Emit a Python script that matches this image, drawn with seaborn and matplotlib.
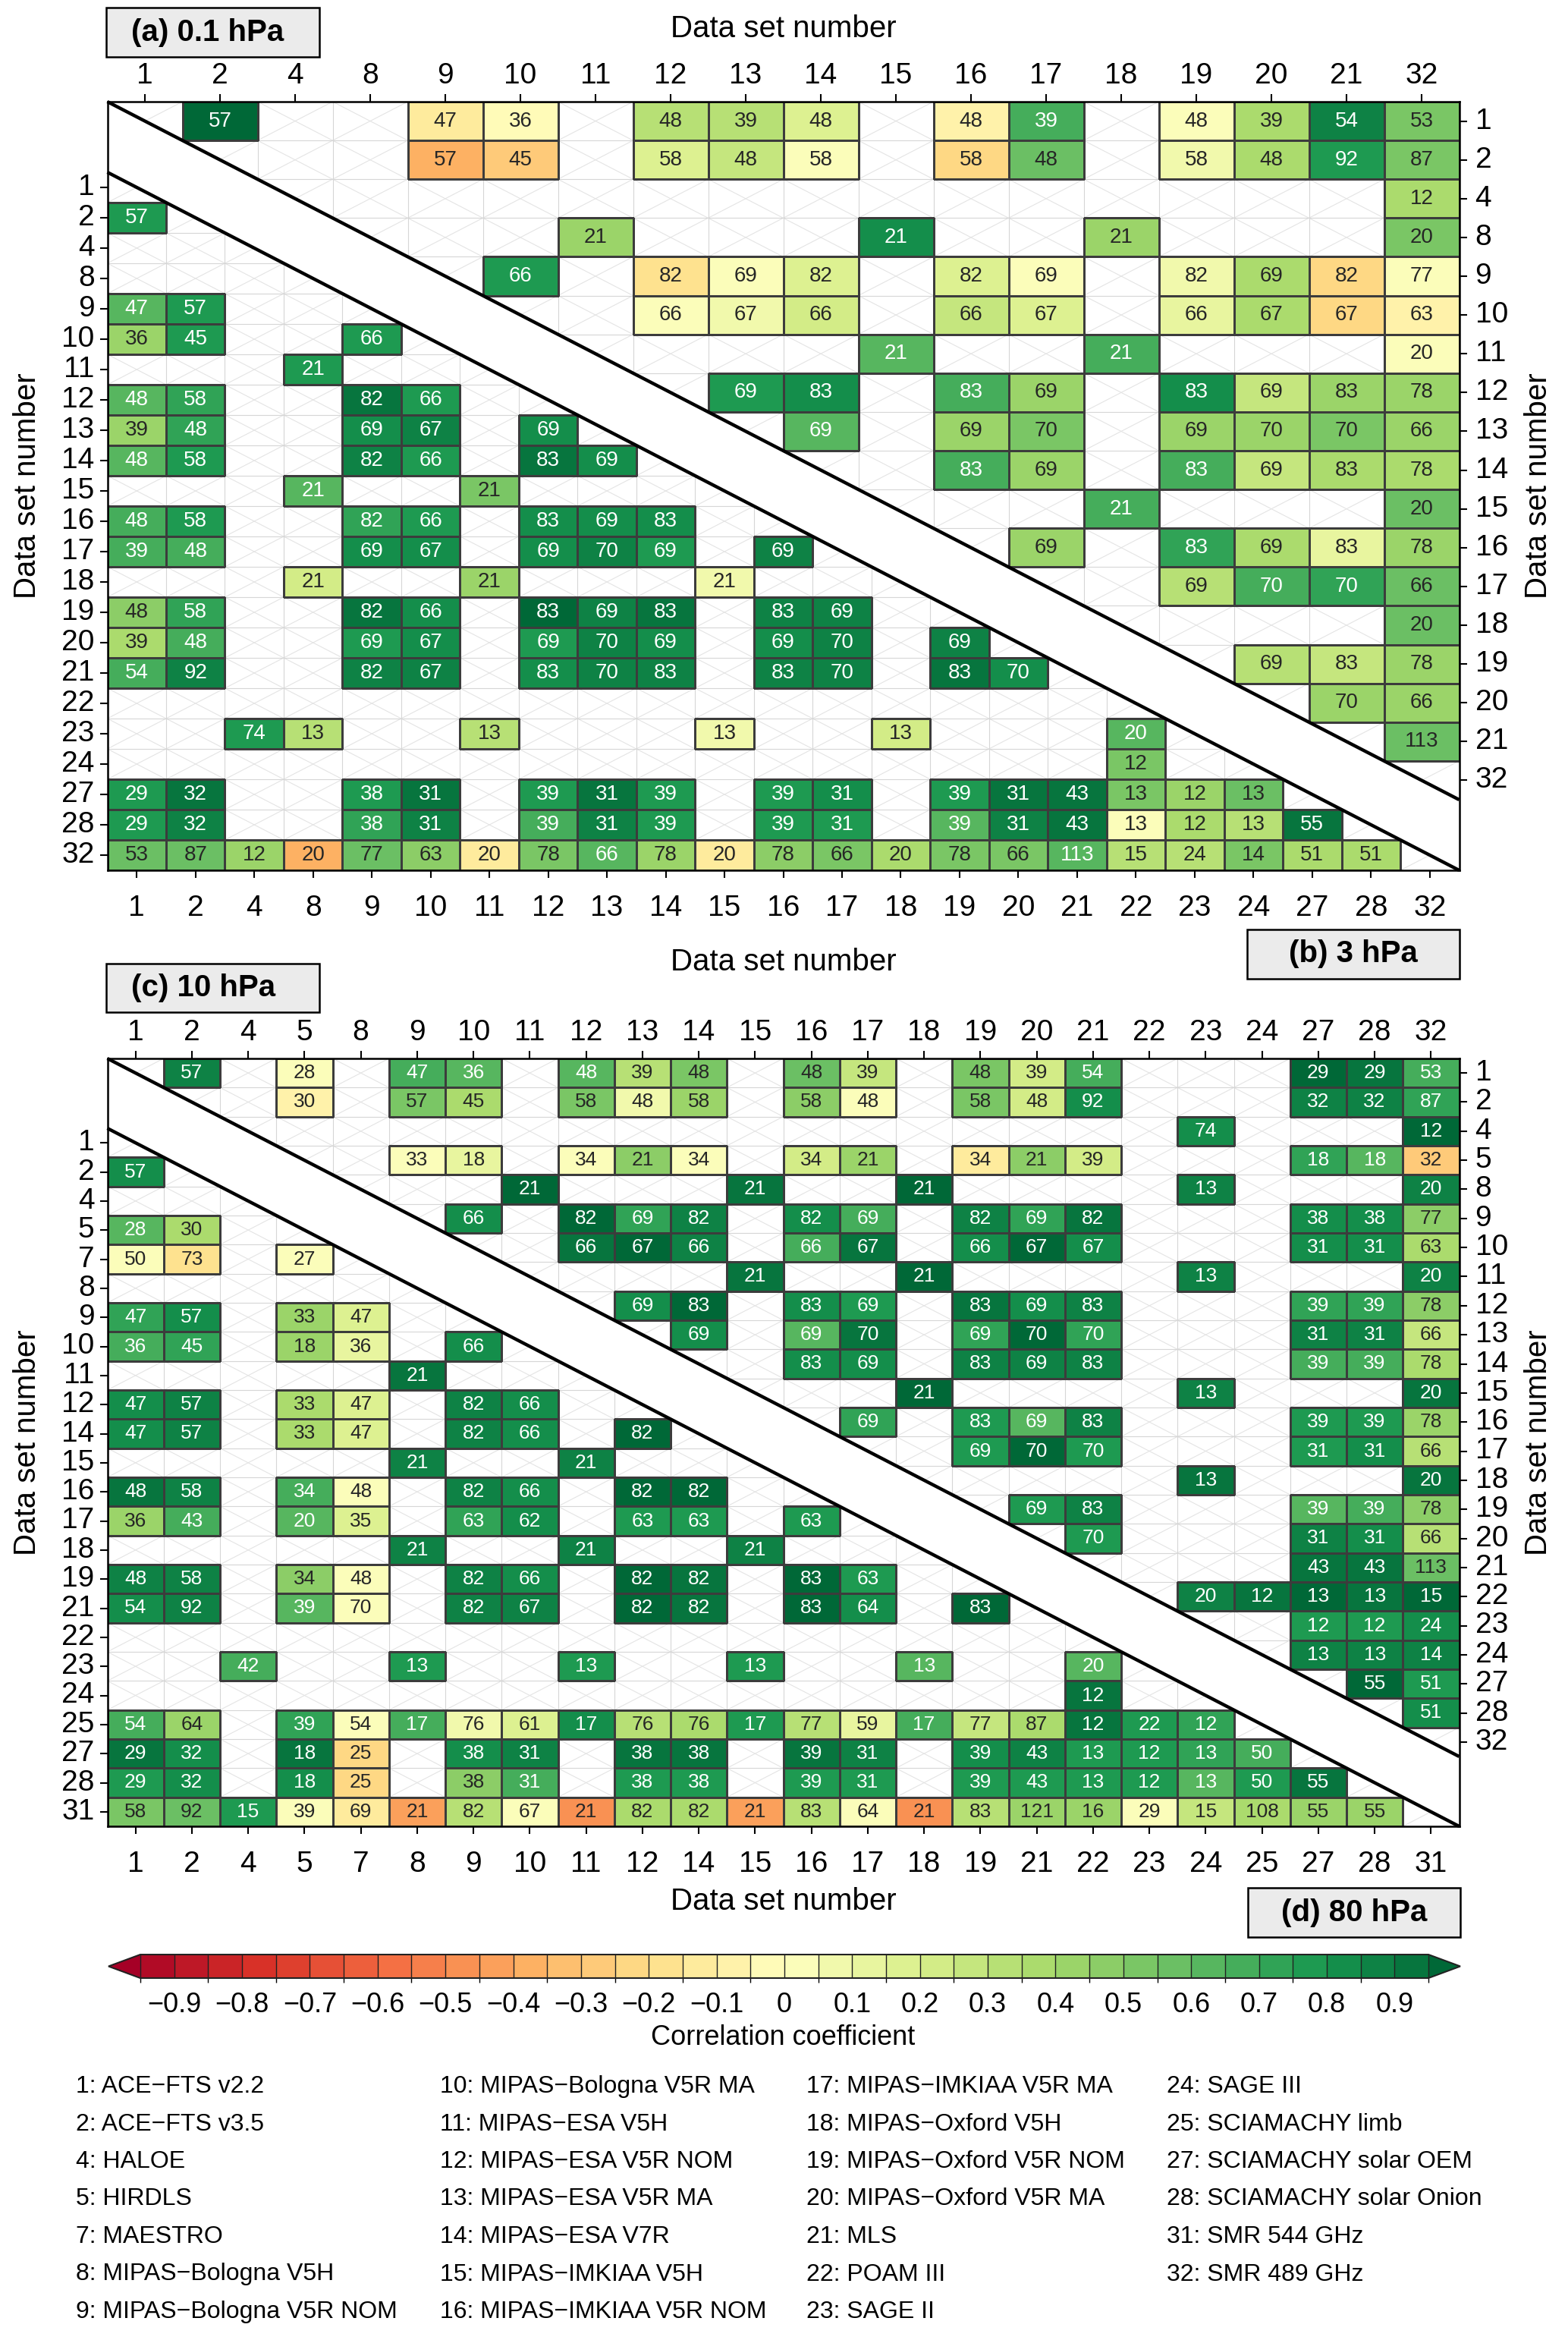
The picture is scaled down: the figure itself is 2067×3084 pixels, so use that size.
import numpy as np
import pandas as pd
import matplotlib
matplotlib.use("Agg")
import matplotlib.pyplot as plt
import seaborn as sns
from matplotlib.colors import BoundaryNorm, to_rgba
from matplotlib.collections import LineCollection
from matplotlib.patches import Polygon, Rectangle

# ---------------- data ----------------
LAB_A = [1, 2, 4, 8, 9, 10, 11, 12, 13, 14, 15, 16, 17, 18, 19, 20, 21, 22, 23, 24, 27, 28, 32]
LAB_B = [1, 2, 4, 8, 9, 10, 11, 12, 13, 14, 15, 16, 17, 18, 19, 20, 21, 32]
LAB_C = [1, 2, 4, 5, 7, 8, 9, 10, 11, 12, 14, 15, 16, 17, 18, 19, 21, 22, 23, 24, 25, 27, 28, 31]
LAB_D = [1, 2, 4, 5, 8, 9, 10, 11, 12, 13, 14, 15, 16, 17, 18, 19, 20, 21, 22, 23, 24, 27, 28, 32]

# (row, column, number of coincidences, correlation coefficient)
CELLS_A = [  # (a) 0.1 hPa, lower-left triangle
    (2, 1, 57, 0.77),
    (9, 1, 47, 0.62), (9, 2, 57, 0.77),
    (10, 1, 36, 0.42), (10, 2, 45, 0.77), (10, 9, 66, 0.77),
    (11, 8, 21, 0.77),
    (12, 1, 48, 0.62), (12, 2, 58, 0.72), (12, 9, 82, 0.93), (12, 10, 66, 0.77),
    (13, 1, 39, 0.42), (13, 2, 48, 0.72), (13, 9, 69, 0.82), (13, 10, 67, 0.88), (13, 12, 69, 0.82),
    (14, 1, 48, 0.62), (14, 2, 58, 0.77), (14, 9, 82, 0.88), (14, 10, 66, 0.77), (14, 12, 83, 0.92), (14, 13, 69, 0.82),
    (15, 8, 21, 0.62), (15, 11, 21, 0.52),
    (16, 1, 48, 0.67), (16, 2, 58, 0.77), (16, 9, 82, 0.72), (16, 10, 66, 0.77), (16, 12, 83, 0.82), (16, 13, 69, 0.82), (16, 14, 83, 0.82),
    (17, 1, 39, 0.67), (17, 2, 48, 0.67), (17, 9, 69, 0.82), (17, 10, 67, 0.82), (17, 12, 69, 0.82), (17, 13, 70, 0.87), (17, 14, 69, 0.77), (17, 16, 69, 0.87),
    (18, 8, 21, 0.22), (18, 11, 21, 0.42), (18, 15, 21, 0.07),
    (19, 1, 48, 0.47), (19, 2, 58, 0.72), (19, 9, 82, 0.92), (19, 10, 66, 0.82), (19, 12, 83, 0.96), (19, 13, 69, 0.87), (19, 14, 83, 0.92), (19, 16, 83, 0.87), (19, 17, 69, 0.87),
    (20, 1, 39, 0.37), (20, 2, 48, 0.67), (20, 9, 69, 0.77), (20, 10, 67, 0.82), (20, 12, 69, 0.77), (20, 13, 70, 0.87), (20, 14, 69, 0.82), (20, 16, 69, 0.82), (20, 17, 70, 0.87), (20, 19, 69, 0.87),
    (21, 1, 54, 0.67), (21, 2, 92, 0.88), (21, 9, 82, 0.88), (21, 10, 67, 0.88), (21, 12, 83, 0.82), (21, 13, 70, 0.88), (21, 14, 83, 0.88), (21, 16, 83, 0.88), (21, 17, 70, 0.88), (21, 19, 83, 0.92), (21, 20, 70, 0.82),
    (23, 4, 74, 0.77), (23, 8, 13, 0.32), (23, 11, 13, 0.32), (23, 15, 13, 0.07), (23, 18, 13, 0.22), (23, 22, 20, 0.62),
    (24, 22, 12, 0.52),
    (27, 1, 29, 0.77), (27, 2, 32, 0.92), (27, 9, 38, 0.77), (27, 10, 31, 0.92), (27, 12, 39, 0.77), (27, 13, 31, 0.93), (27, 14, 39, 0.77), (27, 16, 39, 0.77), (27, 17, 31, 0.82), (27, 19, 39, 0.77), (27, 20, 31, 0.92), (27, 21, 43, 0.92), (27, 22, 13, 0.52), (27, 23, 12, 0.42), (27, 24, 13, 0.57),
    (28, 1, 29, 0.77), (28, 2, 32, 0.87), (28, 9, 38, 0.72), (28, 10, 31, 0.87), (28, 12, 39, 0.67), (28, 13, 31, 0.87), (28, 14, 39, 0.77), (28, 16, 39, 0.77), (28, 17, 31, 0.77), (28, 19, 39, 0.62), (28, 20, 31, 0.87), (28, 21, 43, 0.92), (28, 22, 13, 0.03), (28, 23, 12, 0.37), (28, 24, 13, 0.32), (28, 27, 55, 0.92),
    (32, 1, 53, 0.57), (32, 2, 87, 0.57), (32, 4, 12, 0.42), (32, 8, 20, -0.38), (32, 9, 77, 0.57), (32, 10, 63, 0.47), (32, 11, 20, -0.12), (32, 12, 78, 0.52), (32, 13, 66, 0.62), (32, 14, 78, 0.42), (32, 15, 20, -0.12), (32, 16, 78, 0.47), (32, 17, 66, 0.52), (32, 18, 20, 0.37), (32, 19, 78, 0.52), (32, 20, 66, 0.52), (32, 21, 113, 0.62), (32, 22, 15, 0.32), (32, 23, 24, 0.32), (32, 24, 14, 0.52), (32, 27, 51, 0.37), (32, 28, 51, 0.37),
]

CELLS_B = [  # (b) 3 hPa, upper-right triangle
    (1, 2, 57, 0.96), (1, 9, 47, -0.13), (1, 10, 36, -0.03), (1, 12, 48, 0.32), (1, 13, 39, 0.32), (1, 14, 48, 0.17), (1, 16, 48, -0.07), (1, 17, 39, 0.67), (1, 19, 48, 0.03), (1, 20, 39, 0.38), (1, 21, 54, 0.88), (1, 32, 53, 0.52),
    (2, 9, 57, -0.37), (2, 10, 45, -0.27), (2, 12, 58, 0.17), (2, 13, 48, 0.28), (2, 14, 58, 0.03), (2, 16, 58, -0.22), (2, 17, 48, 0.57), (2, 19, 58, 0.07), (2, 20, 48, 0.38), (2, 21, 92, 0.77), (2, 32, 87, 0.52),
    (4, 32, 12, 0.38),
    (8, 11, 21, 0.42), (8, 15, 21, 0.82), (8, 18, 21, 0.42), (8, 32, 20, 0.52),
    (9, 10, 66, 0.77), (9, 12, 82, -0.17), (9, 13, 69, 0.03), (9, 14, 82, 0.17), (9, 16, 82, 0.17), (9, 17, 69, 0.03), (9, 19, 82, 0.08), (9, 20, 69, 0.38), (9, 21, 82, -0.22), (9, 32, 77, 0.03),
    (10, 12, 66, 0.03), (10, 13, 67, 0.08), (10, 14, 66, 0.22), (10, 16, 66, 0.28), (10, 17, 67, 0.17), (10, 19, 66, 0.13), (10, 20, 67, 0.38), (10, 21, 67, -0.22), (10, 32, 63, -0.07),
    (11, 15, 21, 0.62), (11, 18, 21, 0.67), (11, 32, 20, 0.03),
    (12, 13, 69, 0.77), (12, 14, 83, 0.82), (12, 16, 83, 0.67), (12, 17, 69, 0.42), (12, 19, 83, 0.82), (12, 20, 69, 0.28), (12, 21, 83, 0.42), (12, 32, 78, 0.42),
    (13, 14, 69, 0.62), (13, 16, 69, 0.42), (13, 17, 70, 0.52), (13, 19, 69, 0.42), (13, 20, 70, 0.42), (13, 21, 70, 0.52), (13, 32, 66, 0.42),
    (14, 16, 83, 0.67), (14, 17, 69, 0.42), (14, 19, 83, 0.67), (14, 20, 69, 0.28), (14, 21, 83, 0.38), (14, 32, 78, 0.38),
    (15, 18, 21, 0.67), (15, 32, 20, 0.57),
    (16, 17, 69, 0.42), (16, 19, 83, 0.72), (16, 20, 69, 0.38), (16, 21, 83, 0.13), (16, 32, 78, 0.42),
    (17, 19, 69, 0.32), (17, 20, 70, 0.67), (17, 21, 70, 0.72), (17, 32, 66, 0.57),
    (18, 32, 20, 0.57),
    (19, 20, 69, 0.33), (19, 21, 83, 0.28), (19, 32, 78, 0.42),
    (20, 21, 70, 0.42), (20, 32, 66, 0.42),
    (21, 32, 113, 0.57),
]

CELLS_C = [  # (c) 10 hPa, lower-left triangle
    (2, 1, 57, 0.82),
    (5, 1, 28, 0.62), (5, 2, 30, 0.38),
    (7, 1, 50, 0.03), (7, 2, 73, -0.17), (7, 5, 27, 0.03),
    (9, 1, 47, 0.72), (9, 2, 57, 0.82), (9, 5, 33, 0.42), (9, 7, 47, 0.17),
    (10, 1, 36, 0.67), (10, 2, 45, 0.72), (10, 5, 18, 0.42), (10, 7, 36, 0.12), (10, 9, 66, 0.82),
    (11, 8, 21, 0.92),
    (12, 1, 47, 0.82), (12, 2, 57, 0.87), (12, 5, 33, 0.38), (12, 7, 47, 0.17), (12, 9, 82, 0.87), (12, 10, 66, 0.82),
    (14, 1, 47, 0.82), (14, 2, 57, 0.87), (14, 5, 33, 0.38), (14, 7, 47, 0.17), (14, 9, 82, 0.87), (14, 10, 66, 0.82), (14, 12, 82, 0.96),
    (15, 8, 21, 0.87), (15, 11, 21, 0.87),
    (16, 1, 48, 0.92), (16, 2, 58, 0.87), (16, 5, 34, 0.67), (16, 7, 48, 0.03), (16, 9, 82, 0.87), (16, 10, 66, 0.82), (16, 12, 82, 0.96), (16, 14, 82, 0.96),
    (17, 1, 36, 0.42), (17, 2, 43, 0.67), (17, 5, 20, 0.62), (17, 7, 35, 0.17), (17, 9, 63, 0.72), (17, 10, 62, 0.82), (17, 12, 63, 0.77), (17, 14, 63, 0.77), (17, 16, 63, 0.77),
    (18, 8, 21, 0.87), (18, 11, 21, 0.87), (18, 15, 21, 0.87),
    (19, 1, 48, 0.87), (19, 2, 58, 0.87), (19, 5, 34, 0.47), (19, 7, 48, 0.03), (19, 9, 82, 0.87), (19, 10, 66, 0.82), (19, 12, 82, 0.96), (19, 14, 82, 0.92), (19, 16, 83, 0.96), (19, 17, 63, 0.77),
    (21, 1, 54, 0.82), (21, 2, 92, 0.87), (21, 5, 39, 0.62), (21, 7, 70, 0.03), (21, 9, 82, 0.87), (21, 10, 67, 0.87), (21, 12, 82, 0.96), (21, 14, 82, 0.92), (21, 16, 83, 0.96), (21, 17, 64, 0.82), (21, 19, 83, 0.96),
    (23, 4, 42, 0.67), (23, 8, 13, 0.77), (23, 11, 13, 0.77), (23, 15, 13, 0.77), (23, 18, 13, 0.62), (23, 22, 20, 0.62),
    (24, 22, 12, 0.92),
    (25, 1, 54, 0.67), (25, 2, 64, 0.42), (25, 5, 39, 0.72), (25, 7, 54, 0.03), (25, 8, 17, 0.67), (25, 9, 76, 0.08), (25, 10, 61, 0.17), (25, 11, 17, 0.82), (25, 12, 76, 0.33), (25, 14, 76, 0.38), (25, 15, 17, 0.77), (25, 16, 77, 0.33), (25, 17, 59, 0.13), (25, 18, 17, 0.67), (25, 19, 77, 0.28), (25, 21, 87, 0.38), (25, 22, 12, 0.92), (25, 23, 22, 0.77), (25, 24, 12, 0.72),
    (27, 1, 29, 0.92), (27, 2, 32, 0.82), (27, 5, 18, 0.92), (27, 7, 25, -0.22), (27, 9, 38, 0.82), (27, 10, 31, 0.88), (27, 12, 38, 0.92), (27, 14, 38, 0.92), (27, 16, 39, 0.93), (27, 17, 31, 0.88), (27, 19, 39, 0.83), (27, 21, 43, 0.88), (27, 22, 13, 0.78), (27, 23, 12, 0.77), (27, 24, 13, 0.72), (27, 25, 50, 0.67),
    (28, 1, 29, 0.77), (28, 2, 32, 0.82), (28, 5, 18, 0.82), (28, 7, 25, -0.22), (28, 9, 38, 0.47), (28, 10, 31, 0.67), (28, 12, 38, 0.77), (28, 14, 38, 0.77), (28, 16, 39, 0.77), (28, 17, 31, 0.77), (28, 19, 39, 0.77), (28, 21, 43, 0.77), (28, 22, 13, 0.77), (28, 23, 12, 0.77), (28, 24, 13, 0.62), (28, 25, 50, 0.77), (28, 27, 55, 0.92),
    (31, 1, 58, 0.52), (31, 2, 92, 0.57), (31, 4, 15, 0.77), (31, 5, 39, 0.03), (31, 7, 69, -0.12), (31, 8, 21, -0.42), (31, 9, 82, 0.33), (31, 10, 67, 0.03), (31, 11, 21, -0.47), (31, 12, 82, 0.38), (31, 14, 82, 0.38), (31, 15, 21, -0.42), (31, 16, 83, 0.33), (31, 17, 64, 0.03), (31, 18, 21, -0.47), (31, 19, 83, 0.33), (31, 21, 121, 0.42), (31, 22, 16, 0.42), (31, 23, 29, 0.03), (31, 24, 15, 0.28), (31, 25, 108, 0.38), (31, 27, 55, 0.42), (31, 28, 55, 0.42),
]

CELLS_D = [  # (d) 80 hPa, upper-right triangle
    (1, 2, 57, 0.87), (1, 5, 28, 0.03), (1, 9, 47, 0.67), (1, 10, 36, 0.62), (1, 12, 48, 0.62), (1, 13, 39, 0.33), (1, 14, 48, 0.52), (1, 16, 48, 0.57), (1, 17, 39, 0.28), (1, 19, 48, 0.52), (1, 20, 39, 0.22), (1, 21, 54, 0.67), (1, 27, 29, 0.96), (1, 28, 29, 0.92), (1, 32, 53, 0.67),
    (2, 5, 30, -0.07), (2, 9, 57, 0.52), (2, 10, 45, 0.38), (2, 12, 58, 0.52), (2, 13, 48, 0.08), (2, 14, 58, 0.42), (2, 16, 58, 0.47), (2, 17, 48, 0.03), (2, 19, 58, 0.52), (2, 20, 48, 0.22), (2, 21, 92, 0.82), (2, 27, 32, 0.87), (2, 28, 32, 0.87), (2, 32, 87, 0.72),
    (4, 23, 74, 0.82), (4, 32, 12, 0.96),
    (5, 9, 33, 0.03), (5, 10, 18, 0.13), (5, 12, 34, 0.03), (5, 13, 21, 0.47), (5, 14, 34, 0.03), (5, 16, 34, 0.22), (5, 17, 21, 0.42), (5, 19, 34, -0.12), (5, 20, 21, 0.47), (5, 21, 39, 0.22), (5, 27, 18, 0.72), (5, 28, 18, 0.62), (5, 32, 32, -0.27),
    (8, 11, 21, 0.96), (8, 15, 21, 0.92), (8, 18, 21, 0.96), (8, 23, 13, 0.87), (8, 32, 20, 0.87),
    (9, 10, 66, 0.82), (9, 12, 82, 0.96), (9, 13, 69, 0.72), (9, 14, 82, 0.88), (9, 16, 82, 0.82), (9, 17, 69, 0.67), (9, 19, 82, 0.87), (9, 20, 69, 0.72), (9, 21, 82, 0.92), (9, 27, 38, 0.82), (9, 28, 38, 0.82), (9, 32, 77, 0.47),
    (10, 12, 66, 0.92), (10, 13, 67, 0.96), (10, 14, 66, 0.87), (10, 16, 66, 0.67), (10, 17, 67, 0.92), (10, 19, 66, 0.82), (10, 20, 67, 0.96), (10, 21, 67, 0.82), (10, 27, 31, 0.82), (10, 28, 31, 0.82), (10, 32, 63, 0.37),
    (11, 15, 21, 0.92), (11, 18, 21, 0.96), (11, 23, 13, 0.87), (11, 32, 20, 0.87),
    (12, 13, 69, 0.82), (12, 14, 83, 0.96), (12, 16, 83, 0.82), (12, 17, 69, 0.77), (12, 19, 83, 0.92), (12, 20, 69, 0.82), (12, 21, 83, 0.87), (12, 27, 39, 0.72), (12, 28, 39, 0.72), (12, 32, 78, 0.47),
    (13, 14, 69, 0.82), (13, 16, 69, 0.62), (13, 17, 70, 0.92), (13, 19, 69, 0.72), (13, 20, 70, 0.96), (13, 21, 70, 0.72), (13, 27, 31, 0.87), (13, 28, 31, 0.87), (13, 32, 66, 0.27),
    (14, 16, 83, 0.82), (14, 17, 69, 0.82), (14, 19, 83, 0.87), (14, 20, 69, 0.87), (14, 21, 83, 0.87), (14, 27, 39, 0.67), (14, 28, 39, 0.67), (14, 32, 78, 0.37),
    (15, 18, 21, 0.96), (15, 23, 13, 0.87), (15, 32, 20, 0.92),
    (16, 17, 69, 0.72), (16, 19, 83, 0.77), (16, 20, 69, 0.62), (16, 21, 83, 0.87), (16, 27, 39, 0.77), (16, 28, 39, 0.77), (16, 32, 78, 0.42),
    (17, 19, 69, 0.77), (17, 20, 70, 0.96), (17, 21, 70, 0.77), (17, 27, 31, 0.77), (17, 28, 31, 0.82), (17, 32, 66, 0.33),
    (18, 23, 13, 0.92), (18, 32, 20, 0.92),
    (19, 20, 69, 0.77), (19, 21, 83, 0.87), (19, 27, 39, 0.62), (19, 28, 39, 0.67), (19, 32, 78, 0.47),
    (20, 21, 70, 0.77), (20, 27, 31, 0.87), (20, 28, 31, 0.82), (20, 32, 66, 0.33),
    (21, 27, 43, 0.92), (21, 28, 43, 0.92), (21, 32, 113, 0.57),
    (22, 23, 20, 0.87), (22, 24, 12, 0.92), (22, 27, 13, 0.96), (22, 28, 13, 0.92), (22, 32, 15, 0.96),
    (23, 27, 12, 0.77), (23, 28, 12, 0.77), (23, 32, 24, 0.82),
    (24, 27, 13, 0.87), (24, 28, 13, 0.87), (24, 32, 14, 0.87),
    (27, 28, 55, 0.96), (27, 32, 51, 0.77),
    (28, 32, 51, 0.82),
]

PANEL_TITLES = ["(a) 0.1 hPa", "(b) 3 hPa", "(c) 10 hPa", "(d) 80 hPa"]
AXIS_TITLE = "Data set number"
CB_TICKS = [-0.9, -0.8, -0.7, -0.6, -0.5, -0.4, -0.3, -0.2, -0.1, 0.0, 0.1, 0.2, 0.3, 0.4, 0.5, 0.6, 0.7, 0.8, 0.9]
CB_TICKLABELS = ["\u22120.9", "\u22120.8", "\u22120.7", "\u22120.6", "\u22120.5", "\u22120.4", "\u22120.3",
                 "\u22120.2", "\u22120.1", "0", "0.1", "0.2", "0.3", "0.4", "0.5", "0.6", "0.7", "0.8", "0.9"]
CB_LABEL = "Correlation coefficient"
LEGEND_COLS = [
    ["1: ACE\u2212FTS v2.2", "2: ACE\u2212FTS v3.5", "4: HALOE", "5: HIRDLS", "7: MAESTRO",
     "8: MIPAS\u2212Bologna V5H", "9: MIPAS\u2212Bologna V5R NOM"],
    ["10: MIPAS\u2212Bologna V5R MA", "11: MIPAS\u2212ESA V5H", "12: MIPAS\u2212ESA V5R NOM",
     "13: MIPAS\u2212ESA V5R MA", "14: MIPAS\u2212ESA V7R", "15: MIPAS\u2212IMKIAA V5H",
     "16: MIPAS\u2212IMKIAA V5R NOM"],
    ["17: MIPAS\u2212IMKIAA V5R MA", "18: MIPAS\u2212Oxford V5H", "19: MIPAS\u2212Oxford V5R NOM",
     "20: MIPAS\u2212Oxford V5R MA", "21: MLS", "22: POAM III", "23: SAGE II"],
    ["24: SAGE III", "25: SCIAMACHY limb", "27: SCIAMACHY solar OEM", "28: SCIAMACHY solar Onion",
     "31: SMR 544 GHz", "32: SMR 489 GHz"],
]

# ---------------- style ----------------
W, H = 2067, 3084
sns.set_theme(style="white")
plt.rcParams["font.family"] = ["Liberation Sans", "DejaVu Sans"]
for k in ["text.color", "axes.labelcolor", "xtick.color", "ytick.color"]:
    plt.rcParams[k] = "black"

fig = plt.figure(figsize=(W / 100, H / 100), dpi=100)
fig.patch.set_facecolor("white")

levels = np.round(np.arange(-0.95, 0.951, 0.05), 3)
cmap = plt.get_cmap("RdYlGn")
norm = BoundaryNorm(levels, ncolors=cmap.N, extend="both")


def frac(x, y, w, h):
    return [x / W, 1 - (y + h) / H, w / W, h / H]


def build(cells, labels):
    pos = {l: i for i, l in enumerate(labels)}
    n = len(labels)
    r = np.full((n, n), np.nan)
    c = np.full((n, n), np.nan)
    for row, col, cnt, val in cells:
        r[pos[row], pos[col]] = val
        c[pos[row], pos[col]] = cnt
    return (pd.DataFrame(r, index=labels, columns=labels),
            pd.DataFrame(c, index=labels, columns=labels))


def grid_panel(px, cells, labels, upper, fs):
    ax = fig.add_axes(frac(*px))
    ax.patch.set_visible(False)
    R, N = build(cells, labels)
    mask = R.isna()
    sns.heatmap(R, mask=mask, annot=N, fmt=".0f", annot_kws={"fontsize": fs},
                cmap=cmap, norm=norm, cbar=False, linewidths=0.8, linecolor="#3c3c3c",
                xticklabels=labels, yticklabels=labels, ax=ax)
    mesh = ax.collections[0]
    ec = np.zeros((mask.size, 4))
    ec[~mask.values.ravel()] = to_rgba("#3c3c3c")
    mesh.set_edgecolor(ec)
    n = len(labels)
    # light background grid with crosses, only inside this triangle
    tri = [(0, 0), (n, 0), (n, n)] if upper else [(0, 0), (0, n), (n, n)]
    clip = Polygon(tri, closed=True, transform=ax.transData)
    gl = [[(i, 0), (i, n)] for i in range(n + 1)] + [[(0, i), (n, i)] for i in range(n + 1)]
    xl = []
    for i in range(n):
        for j in range(n):
            xl.append([(i, j), (i + 1, j + 1)])
            xl.append([(i + 1, j), (i, j + 1)])
    for segs, col in ((xl, "#e4e4e4"), (gl, "#d6d6d6")):
        lc = LineCollection(segs, colors=col, linewidths=0.8, zorder=0.5)
        ax.add_collection(lc)
        lc.set_clip_path(clip)
    ax.plot([0, n], [0, n], color="black", lw=3.2, clip_on=False,
            solid_capstyle="butt", zorder=6)
    ax.set_xlim(0, n)
    ax.set_ylim(n, 0)
    ax.set_xticklabels(labels, rotation=0)
    ax.set_yticklabels(labels, rotation=0, va="center")
    ax.set_xlabel("")
    ax.set_ylabel("")
    if upper:
        ax.tick_params(axis="x", top=True, labeltop=True, bottom=False, labelbottom=False, pad=4)
        ax.tick_params(axis="y", right=True, labelright=True, left=False, labelleft=False, pad=8)
    else:
        ax.tick_params(axis="x", bottom=True, labelbottom=True, top=False, labeltop=False, pad=16)
        ax.tick_params(axis="y", left=True, labelleft=True, right=False, labelright=False, pad=5)
    ax.tick_params(length=7.2, width=1.5, color="black", labelsize=28,
                   labelcolor="black", direction="out")
    return ax


def frame(px):
    ax = fig.add_axes(frac(*px))
    ax.patch.set_visible(False)
    ax.set_xticks([])
    ax.set_yticks([])
    for s in ax.spines.values():
        s.set_visible(True)
        s.set_color("black")
        s.set_linewidth(1.8)
    ax.set_zorder(10)
    return ax


def label_box(x, y, w, h, text, centered):
    fig.add_artist(Rectangle((x / W, 1 - (y + h) / H), w / W, h / H, transform=fig.transFigure,
                             facecolor="#ebebeb", edgecolor="black", linewidth=1.8))
    tx = x + w / 2 if centered else x + 33
    fig.text(tx / W, 1 - (y + h / 2) / H, text, ha="center" if centered else "left",
             va="center", fontsize=29, fontweight="bold")


X0, GW = 141.5, 1782
# top panel: (a) lower-left, (b) upper-right
TOP_Y, TOP_H, GH = 134, 1013, 920
ax_a = grid_panel((X0, TOP_Y + TOP_H - GH, GW, GH), CELLS_A, LAB_A, False, 20)
ax_b = grid_panel((X0, TOP_Y, GW, GH), CELLS_B, LAB_B, True, 20)
frame((X0, TOP_Y, GW, TOP_H))
# bottom panel: (c) lower-left, (d) upper-right
BOT_Y, BOT_H = 1395, 1012
ax_c = grid_panel((X0, BOT_Y + BOT_H - GH, GW, GH), CELLS_C, LAB_C, False, 19)
ax_d = grid_panel((X0, BOT_Y, GW, GH), CELLS_D, LAB_D, True, 19)
frame((X0, BOT_Y, GW, BOT_H))

# axis titles
cx = (X0 + GW / 2) / W
for yb in (49, 1279, 2517):
    fig.text(cx, 1 - yb / H, AXIS_TITLE, ha="center", va="baseline", fontsize=29)
for yc in (TOP_Y + TOP_H / 2, BOT_Y + BOT_H / 2):
    fig.text(36 / W, 1 - yc / H, AXIS_TITLE, ha="center", va="center", rotation=90, fontsize=29)
    fig.text(2028 / W, 1 - yc / H, AXIS_TITLE, ha="center", va="center", rotation=90, fontsize=29)

# panel labels
label_box(140, 10, 281, 65, PANEL_TITLES[0], False)
label_box(1644, 1225, 280, 65, PANEL_TITLES[1], True)
label_box(140, 1270, 281, 64, PANEL_TITLES[2], False)
label_box(1645, 2488, 280, 65, PANEL_TITLES[3], True)

# colorbar (extension triangles are drawn inside the axes box)
cax = fig.add_axes(frac(143, 2576, 1782, 31))
cb = fig.colorbar(ax_a.collections[0], cax=cax, orientation="horizontal", extend="both",
                  extendfrac=0.0247, drawedges=True)
cb.set_ticks(CB_TICKS, labels=CB_TICKLABELS)
cb.ax.tick_params(length=0, labelsize=26, pad=13, labelcolor="black")
cb.outline.set_linewidth(1.5)
cb.outline.set_edgecolor("#222222")
cb.dividers.set_color("#222222")
cb.dividers.set_linewidth(1.0)
fig.text(cx, 1 - 2695 / H, CB_LABEL, ha="center", va="baseline", fontsize=26)

# data set legend
col_x = [100, 580, 1063, 1538]
for xi, entries in zip(col_x, LEGEND_COLS):
    for k, t in enumerate(entries):
        fig.text(xi / W, 1 - (2758 + 49.5 * k) / H, t, ha="left", va="baseline", fontsize=23)

fig.savefig("out.png", dpi=100, facecolor="white")
